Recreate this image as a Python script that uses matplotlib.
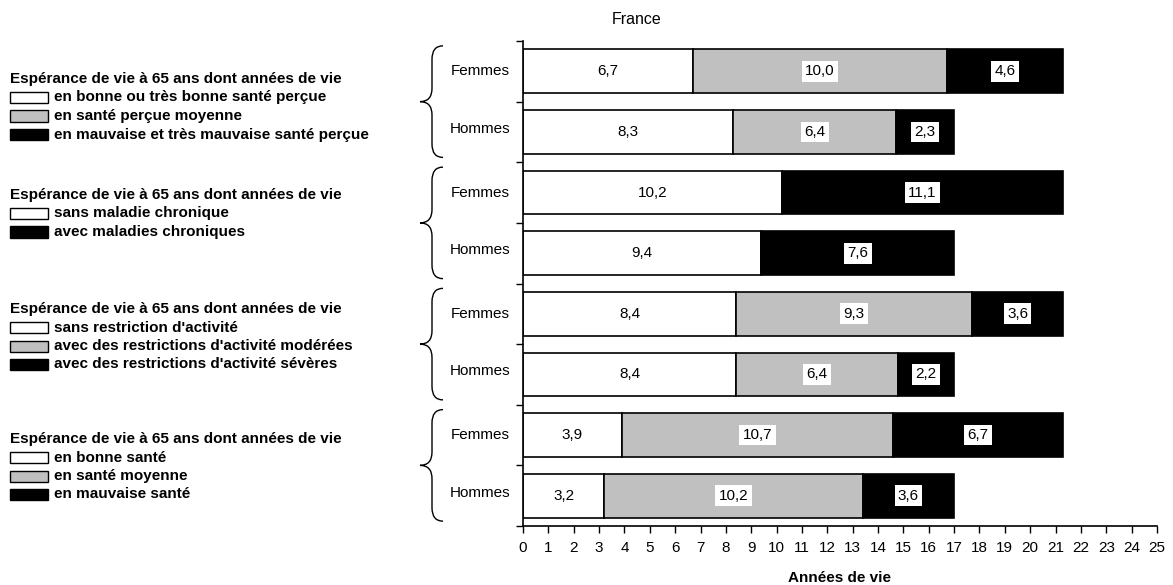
import matplotlib
matplotlib.use("Agg")
import matplotlib.pyplot as plt
from matplotlib.patches import Rectangle, PathPatch
from matplotlib.path import Path
import matplotlib.transforms as mtransforms

plt.rcParams['font.family'] = ['Liberation Sans', 'DejaVu Sans']

# ---- data ----
row_labels = ["Femmes", "Hommes"] * 4
seg1 = [6.7, 8.3, 10.2, 9.4, 8.4, 8.4, 3.9, 3.2]   # white
seg2 = [10.0, 6.4, 0.0, 0.0, 9.3, 6.4, 10.7, 10.2]  # grey
seg3 = [4.6, 2.3, 11.1, 7.6, 3.6, 2.2, 6.7, 3.6]   # black
xticks = list(range(0, 26))

legend_title = "Espérance de vie à 65 ans dont années de vie"
legend_groups = [
    ["en bonne ou très bonne santé perçue", "en santé perçue moyenne",
     "en mauvaise et très mauvaise santé perçue"],
    ["sans maladie chronique", "avec maladies chroniques"],
    ["sans restriction d'activité", "avec des restrictions d'activité modérées",
     "avec des restrictions d'activité sévères"],
    ["en bonne santé", "en santé moyenne", "en mauvaise santé"],
]
legend_colors = [
    ["white", "#C0C0C0", "black"],
    ["white", "black"],
    ["white", "#C0C0C0", "black"],
    ["white", "#C0C0C0", "black"],
]

W, H = 1173, 585
fig = plt.figure(figsize=(W / 100, H / 100), dpi=100)
ax = fig.add_axes([523 / W, 1 - 526 / H, (1157 - 523) / W, (526 - 41) / H])

GREY = "#C0C0C0"
FS = 11
ypos = list(range(len(seg1)))
bh = 0.72
ax.barh(ypos, seg1, height=bh, color="white", edgecolor="black", linewidth=1.2)
left2 = seg1
ax.barh(ypos, seg2, left=left2, height=bh, color=GREY, edgecolor="black", linewidth=1.2)
left3 = [a + b for a, b in zip(seg1, seg2)]
ax.barh(ypos, seg3, left=left3, height=bh, color="black", edgecolor="black", linewidth=1.2)

def fmt(v):
    return f"{v:.1f}".replace(".", ",")

for i in ypos:
    ax.text(seg1[i] / 2, i, fmt(seg1[i]), ha="center", va="center", fontsize=FS)
    if seg2[i] > 0:
        ax.text(seg1[i] + seg2[i] / 2, i, fmt(seg2[i]), ha="center", va="center", fontsize=FS,
                bbox=dict(boxstyle="square,pad=0.22", facecolor="white", edgecolor="none"))
    ax.text(left3[i] + seg3[i] / 2, i, fmt(seg3[i]), ha="center", va="center", fontsize=FS,
            bbox=dict(boxstyle="square,pad=0.22", facecolor="white", edgecolor="none"))

ax.set_xlim(0, 25)
ax.set_ylim(7.5, -0.5)
ax.set_xticks(xticks)
ax.set_xticklabels([str(t) for t in xticks], fontsize=FS)
ax.set_yticks([k - 0.5 for k in range(len(seg1) + 1)])
ax.set_yticklabels([])
ax.tick_params(axis="x", direction="out", length=5, width=1, pad=6)
ax.tick_params(axis="y", direction="out", length=5, width=1)
for s in ["top", "right"]:
    ax.spines[s].set_visible(False)
for s in ["left", "bottom"]:
    ax.spines[s].set_linewidth(1.2)
ax.set_xlabel("Années de vie", fontsize=FS, fontweight="bold", labelpad=11)

# row labels and braces
blend = mtransforms.blended_transform_factory(fig.transFigure, ax.transData)
for i, lab in enumerate(row_labels):
    off = 0.0 if lab == "Femmes" else -0.05
    ax.text(480 / W, i + off, lab, ha="center", va="center", fontsize=FS, transform=blend)

xr, xs, xc = 443 / W, 432 / W, 420 / W
for g in range(4):
    top = 2 * g - 0.42
    bot = 2 * g + 1 + 0.42
    mid = 2 * g + 0.5
    r = 0.22
    verts = [
        (xr, top), (xs, top), (xs, top + r),
        (xs, mid - r),
        (xs, mid), (xc, mid),
        (xs, mid), (xs, mid + r),
        (xs, bot - r),
        (xs, bot), (xr, bot),
    ]
    codes = [Path.MOVETO, Path.CURVE3, Path.CURVE3,
             Path.LINETO,
             Path.CURVE3, Path.CURVE3,
             Path.CURVE3, Path.CURVE3,
             Path.LINETO,
             Path.CURVE3, Path.CURVE3]
    pp = PathPatch(Path(verts, codes), facecolor="none", edgecolor="black",
                   linewidth=1.0, transform=blend, clip_on=False)
    fig.add_artist(pp)

# title
fig.text(637 / W, 1 - 20 / H, "France", ha="center", va="center", fontsize=11.5)

# legends on the left
title_y = [79, 195, 309, 439]
for g, items in enumerate(legend_groups):
    ty = title_y[g]
    fig.text(10 / W, 1 - ty / H, legend_title, ha="left", va="center", fontsize=FS,
             fontweight="bold")
    for k, (txt, col) in enumerate(zip(items, legend_colors[g])):
        y = ty + 18.5 * (k + 1)
        fig.add_artist(Rectangle((10 / W, 1 - (y + 5.5) / H), 38 / W, 11 / H,
                                 facecolor=col, edgecolor="black", linewidth=1.0,
                                 transform=fig.transFigure))
        fig.text(54 / W, 1 - y / H, txt, ha="left", va="center", fontsize=FS,
                 fontweight="bold")

fig.savefig("out.png", dpi=100)
